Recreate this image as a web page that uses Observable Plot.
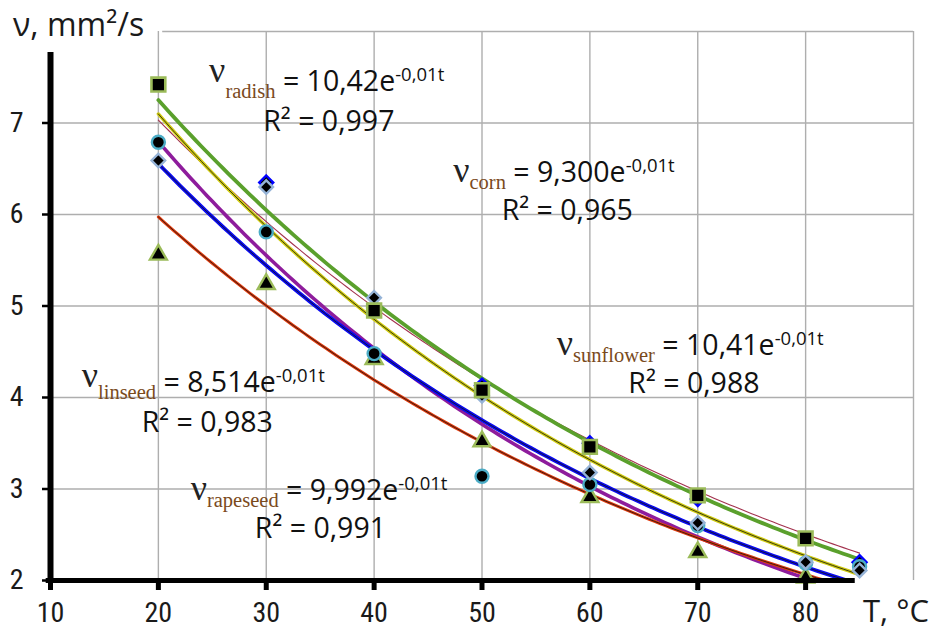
<!DOCTYPE html>
<html>
<head>
<meta charset="utf-8">
<script src="https://cdn.jsdelivr.net/npm/d3@7"></script>
<script src="https://cdn.jsdelivr.net/npm/@observablehq/plot@0.6"></script>
<style>
  html, body { margin: 0; padding: 0; background: #fff; }
  svg { display: block; }
</style>
</head>
<body>
<div id="chart"></div>
<script>
// ---------------- data ----------------
const temps = [20, 30, 40, 50, 60, 70, 80, 85];
const squareValues      = [7.42, null, 4.95, 4.08, 3.46, 2.93, 2.46, null];
const blueDiamondValues = [null, 6.35, null, 4.13, 3.50, 2.89, null, 2.20];
const greyDiamondValues = [6.59, 6.30, 5.09, 4.02, 3.18, 2.63, 2.20, 2.11];
const circleValues      = [6.79, 5.81, 4.48, 3.14, 3.05, 2.60, 2.19, 2.15];
const triangleValues    = [5.56, 5.24, 4.42, 3.52, 2.91, 2.31, 2.03, null];

// exponential trend lines v = a * exp(-k t)
const trendIds = ["maroon", "purple", "blue", "red", "yellow", "green"];
const trendA   = [9.92, 10.18, 9.51, 8.51, 10.38, 10.42];
const trendK   = [0.0172, 0.0202, 0.0186, 0.0177, 0.0190, 0.01813];
const trendStart = 20, trendEnd = 85;

const xTicks = [10, 20, 30, 40, 50, 60, 70, 80];
const yTicks = [2, 3, 4, 5, 6, 7];

const eqNames = ["radish", "corn", "sunflower", "linseed", "rapeseed"];
const eqCoefs = ["10,42", "9,300", "10,41", "8,514", "9,992"];
const eqExponent = "-0,01t";
const eqR2 = ["0,997", "0,965", "0,988", "0,983", "0,991"];

// ---------------- layout / style ----------------
const eqLayout = [
  {x: 24.75, y: 7.344, r2x: 29.77, r2y: 6.907, nuDy: -9},
  {x: 47.38, y: 6.350, r2x: 51.87, r2y: 5.934, nuDy: 0},
  {x: 56.97, y: 4.459, r2x: 63.61, r2y: 4.040, nuDy: 0},
  {x: 12.94, y: 4.054, r2x: 18.50, r2y: 3.621, nuDy: -5},
  {x: 23.04, y: 2.874, r2x: 28.99, r2y: 2.455, nuDy: 0}
];
const trendStyle = {
  maroon: {stroke: "#a3324e", width: 1.1, core: false},
  purple: {stroke: "#8e1c9c", width: 3.6, core: false},
  blue:   {stroke: "#0a0af0", width: 3.8, core: true},
  red:    {stroke: "#e03a0c", width: 3.0, core: true},
  yellow: {stroke: "#cfcb10", width: 3.4, core: true},
  green:  {stroke: "#5aa02c", width: 3.8, core: false}
};
const SANS = "'Open Sans', Lato, sans-serif";
const NARROW = "'Liberation Sans Narrow', 'Arial Narrow', 'Roboto Condensed', sans-serif";
const SERIF = "'Liberation Serif', 'Times New Roman', serif";
const GRID = "#aeaeae";

// ---------------- build tables ----------------
const pts = (vals) => temps.map((t, i) => ({t, v: vals[i]})).filter(d => d.v != null);
const curve = (i) => d3.range(trendStart, trendEnd + 0.001, 0.5).map(t => ({t, v: trendA[i] * Math.exp(-trendK[i] * t)}));

const lineMarks = [];
trendIds.forEach((id, i) => {
  const s = trendStyle[id];
  const data = curve(i);
  lineMarks.push(Plot.line(data, {x: "t", y: "v", stroke: s.stroke, strokeWidth: s.width, curve: "linear", clip: true}));
  if (s.core) lineMarks.push(Plot.line(data, {x: "t", y: "v", stroke: "#111", strokeWidth: 0.8, clip: true}));
});

const plot = Plot.plot({
  width: 937,
  height: 632,
  marginLeft: 50,
  marginRight: 24,
  marginTop: 31,
  marginBottom: 52,
  x: {domain: [10, 90]},
  y: {domain: [2, 8]},
  style: {fontFamily: NARROW, fontSize: "28px", color: "#1a1a1a", background: "#fff", overflow: "visible"},
  marks: [
    // grid
    Plot.ruleX([20, 30, 40, 50, 60, 70, 80, 90], {y1: 2, y2: 8, stroke: GRID, strokeWidth: 1.4}),
    Plot.ruleY([3, 4, 5, 6, 7], {x1: 10, x2: 90, stroke: GRID, strokeWidth: 1.4}),
    Plot.ruleY([8], {x1: 20.4, x2: 90, stroke: GRID, strokeWidth: 1.4}),
    // trend lines
    ...lineMarks,
    // markers
    Plot.dot(pts(triangleValues), {x: "t", y: "v", symbol: "triangle", r: 6.3, fill: "#000", stroke: "#9bbb59", strokeWidth: 2.4}),
    Plot.dot(pts(blueDiamondValues), {x: "t", y: "v", symbol: "diamond2", r: 6.3, fill: "#000", stroke: "#0000ff", strokeWidth: 2.4}),
    Plot.dot(pts(circleValues), {x: "t", y: "v", symbol: "circle", r: 6.5, fill: "#000", stroke: "#4bacc6", strokeWidth: 2.4}),
    Plot.dot(pts(greyDiamondValues), {x: "t", y: "v", symbol: "diamond2", r: 6.1, fill: "#000", stroke: "#95b3d7", strokeWidth: 2.4}),
    Plot.dot(pts(squareValues), {x: "t", y: "v", symbol: "square", r: 7.8, fill: "#000", stroke: "#9bbb59", strokeWidth: 2.6}),
    // axes
    Plot.axisX(xTicks, {anchor: "bottom", tickSize: 10, tickPadding: 12, strokeWidth: 5, stroke: "#000", fontSize: 28, fontFamily: NARROW, label: null, tickFormat: d => String(d)}),
    Plot.axisY(yTicks, {anchor: "left", tickSize: 8, tickPadding: 19, strokeWidth: 2.5, stroke: "#000", fontSize: 28, fontFamily: NARROW, label: null, tickFormat: d => String(d)}),
    Plot.ruleY([2], {x1: 9.6, x2: 84.6, stroke: "#000", strokeWidth: 5}),
    Plot.ruleX([10], {y1: 2, y2: 7.77, stroke: "#000", strokeWidth: 6})
  ]
});

document.getElementById("chart").appendChild(plot);

// ---------------- annotations (placed through the plot's scales) ----------------
const sx = plot.scale("x"), sy = plot.scale("y");
const svg = d3.select(plot);

eqNames.forEach((name, i) => {
  const L = eqLayout[i];
  const t = svg.append("text")
    .attr("text-anchor", "start")
    .attr("x", sx.apply(L.x)).attr("y", sy.apply(L.y))
    .attr("font-family", SANS).attr("font-size", 28.5).attr("fill", "#111");
  t.append("tspan").attr("font-family", SERIF).attr("font-size", 36).attr("fill", "#222").attr("dy", L.nuDy).text("ν");
  t.append("tspan").attr("font-family", SERIF).attr("font-size", 20.5).attr("fill", "#7a4a1c").attr("dy", 7 - L.nuDy).text(name);
  t.append("tspan").attr("dy", -7).text("\u00A0= " + eqCoefs[i] + "e");
  t.append("tspan").attr("font-size", 18.5).attr("dy", -10).text(eqExponent);

  svg.append("text")
    .attr("text-anchor", "start")
    .attr("x", sx.apply(L.r2x)).attr("y", sy.apply(L.r2y))
    .attr("font-family", SANS).attr("font-size", 28.5).attr("fill", "#111")
    .text("R² = " + eqR2[i]);
});

// axis titles
svg.append("text").attr("text-anchor", "start").attr("x", 13).attr("y", 36)
  .attr("font-family", SANS).attr("font-size", 32).attr("fill", "#1a1a1a")
  .text("ν, mm²/s");
svg.append("text").attr("text-anchor", "start").attr("x", 863).attr("y", 622)
  .attr("font-family", SANS).attr("font-size", 31).attr("fill", "#1a1a1a")
  .text("T, °C");
</script>
</body>
</html>
